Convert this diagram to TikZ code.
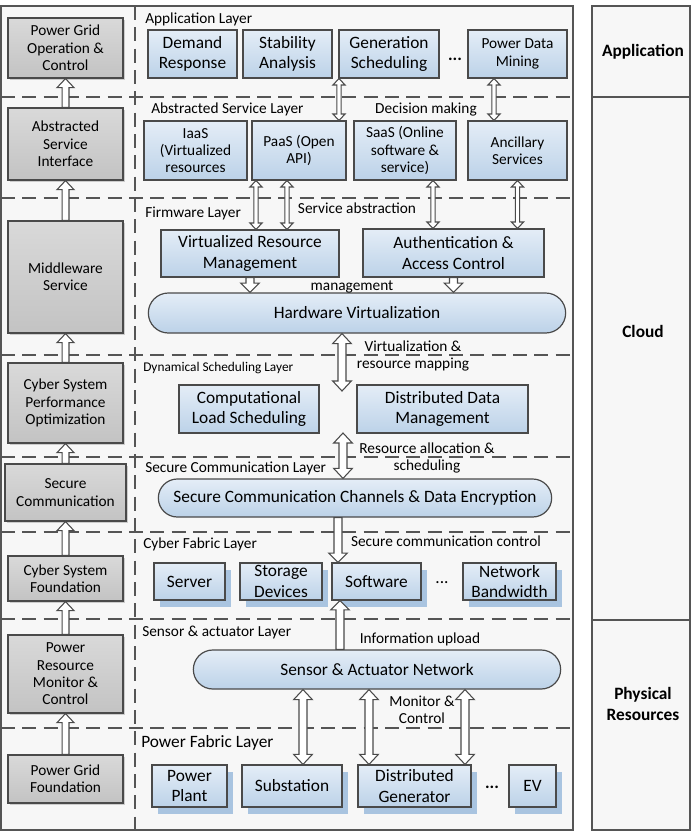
\documentclass[tikz,border=0pt]{standalone}
\usepackage{fontspec}
\setmainfont{Carlito}
\usetikzlibrary{shapes.misc,shadows,calc}
\definecolor{edge}{HTML}{4A4A4A}
\definecolor{frame}{HTML}{555555}
\definecolor{bluetop}{HTML}{E4EDF7}
\definecolor{bluebot}{HTML}{BCD2E8}
\definecolor{blueshadow}{HTML}{A9C4E0}
\definecolor{graytop}{HTML}{D9D9D9}
\definecolor{graybot}{HTML}{C3C3C3}
\definecolor{bgc}{HTML}{F7F7F7}
\newcommand\bigf{\fontsize{13}{15.5}\selectfont}
\newcommand\smallf{\fontsize{11.5}{13}\selectfont}
\newcommand\tinyf{\fontsize{10}{12}\selectfont}
\newcommand\bx[7]{\node[#6, minimum width={(#4-#2)*0.75pt}, minimum height={(#5-#3)*0.75pt}] (#1) at ({(#2+#4)/2},{(#3+#5)/2}) {#7};}
\def\aSW{3pt}\def\aHW{6pt}\def\aHL{6pt}
\tikzset{
  arrdims/.code args={#1/#2/#3}{\def\aSW{#1}\def\aHW{#2}\def\aHL{#3}},
  sarrow/.style={draw=edge, fill=white, line width=0.8pt, line join=miter,
    to path={let \p1=(\tikztostart), \p2=(\tikztotarget), \n1={ifthenelse(\y2>\y1,1,-1)*\aHL} in
      ({\x1-\aSW},{\y1}) -- ({\x1-\aSW},{\y2-(\n1)}) -- ({\x1-\aHW},{\y2-(\n1)}) -- ({\x1},{\y2}) -- ({\x1+\aHW},{\y2-(\n1)}) -- ({\x1+\aSW},{\y2-(\n1)}) -- ({\x1+\aSW},{\y1}) -- cycle}},
  darrow/.style={draw=edge, fill=white, line width=0.8pt, line join=miter,
    to path={let \p1=(\tikztostart), \p2=(\tikztotarget), \n1={ifthenelse(\y2>\y1,1,-1)*\aHL} in
      ({\x1},{\y1}) -- ({\x1+\aHW},{\y1+(\n1)}) -- ({\x1+\aSW},{\y1+(\n1)}) -- ({\x1+\aSW},{\y2-(\n1)}) -- ({\x1+\aHW},{\y2-(\n1)}) -- ({\x1},{\y2}) -- ({\x1-\aHW},{\y2-(\n1)}) -- ({\x1-\aSW},{\y2-(\n1)}) -- ({\x1-\aSW},{\y1+(\n1)}) -- ({\x1-\aHW},{\y1+(\n1)}) -- cycle}},
  leftarr/.style={sarrow, arrdims=2.6pt/6.4pt/6.8pt},
  thinarr/.style={darrow, arrdims=1.6pt/4.6pt/4.8pt},
  medsarr/.style={sarrow, arrdims=3pt/7pt/7pt},
  meddarr/.style={darrow, arrdims=3pt/7pt/7.5pt},
  gbox/.style={draw=edge, line width=0.9pt, top color=graytop, bottom color=graybot,
    drop shadow={shadow xshift=1.6pt, shadow yshift=-1.6pt, fill=gray!40, opacity=1},
    align=center, inner sep=1pt, font=\smallf},
  bbox/.style={draw=edge, line width=0.9pt, top color=bluetop, bottom color=bluebot,
    align=center, inner sep=1pt, font=\bigf},
  sbbox/.style={bbox, drop shadow={shadow xshift=4.5pt, shadow yshift=-5pt, fill=blueshadow, opacity=1}},
  pill/.style={bbox, rounded rectangle},
  lbl/.style={anchor=west, font=\smallf, inner sep=0pt},
  note/.style={font=\smallf, inner sep=0pt, align=center},
  dashline/.style={draw=frame, line width=1pt, dash pattern=on 10.5pt off 5.5pt},
  side/.style={font=\bigf\bfseries, align=center}
}
\begin{document}
\begin{tikzpicture}[x=0.75pt,y=-0.75pt]
\useasboundingbox (0,0) rectangle (691,833);
% frames
\draw[draw=frame, fill=bgc, line width=1.1pt] (1,6) rectangle (573,830);
\draw[draw=frame, fill=bgc, line width=1.1pt] (592,6) rectangle (690,830);
\draw[frame, line width=1.1pt] (592,97) -- (690,97);
\draw[frame, line width=1.1pt] (592,620) -- (690,620);
\foreach \yy in {97,198,355,457,532,619,728} \draw[dashline] (1,\yy) -- (573,\yy);
\draw[dashline] (135,6) -- (135,830);
% right column
\node[side] (tapp) at (643,52) {Application};
\node[side] (tcloud) at (643,331) {Cloud};
\node[side] (tphys) at (643,704) {Physical\\Resources};
% left column
\bx{pgo}{8}{18}{123}{78}{gbox}{Power Grid\\Operation \&\\Control}
\bx{asi}{8}{108}{123}{180}{gbox}{Abstracted\\Service\\Interface}
\bx{mw}{8}{221}{123}{333}{gbox}{Middleware\\Service}
\bx{cspo}{8}{363}{123}{443}{gbox}{Cyber System\\Performance\\Optimization}
\bx{sc}{5}{464}{126}{521}{gbox}{Secure\\Communication}
\bx{csf}{8}{556}{123}{601}{gbox}{Cyber System\\Foundation}
\bx{prmc}{8}{635}{123}{713}{gbox}{Power\\Resource\\Monitor \&\\Control}
\bx{pgf}{8}{755}{123}{803}{gbox}{Power Grid\\Foundation}
\draw[leftarr] (asi.north) to (pgo.south);
\draw[leftarr] (mw.north) to (asi.south);
\draw[leftarr] (cspo.north) to (mw.south);
\draw[leftarr] (sc.north) to (cspo.south);
\draw[leftarr] (csf.north) to (sc.south);
\draw[leftarr] (prmc.north) to (csf.south);
\draw[leftarr] (pgf.north) to (prmc.south);
% application layer
\node[lbl] (lapp) at (145,19) {Application Layer};
\bx{dr}{148}{30}{237}{78}{bbox}{Demand\\Response}
\bx{sa}{243}{30}{332}{78}{bbox}{Stability\\Analysis}
\bx{gs}{339}{30}{439}{78}{bbox}{Generation\\Scheduling}
\node[font=\bigf\bfseries] (dots1) at (455,59) {...};
\bx{pdm}{468}{30}{567}{78}{bbox,font=\smallf}{Power Data\\Mining}
% abstracted service layer
\node[lbl] (labs) at (151,109) {Abstracted Service Layer};
\node[note] (ldec) at (426,109) {Decision making};
\bx{iaas}{144}{121}{247}{180}{bbox,font=\smallf}{IaaS\\(Virtualized\\resources}
\bx{paas}{252}{121}{346}{180}{bbox,font=\smallf}{PaaS (Open\\API)}
\bx{saas}{354}{121}{456}{180}{bbox,font=\smallf}{SaaS (Online\\software \&\\service)}
\bx{anc}{468}{121}{567}{180}{bbox,font=\smallf}{Ancillary\\Services}
\draw[thinarr] ($(gs.south)+(-50,0)$) to (paas.north);
\draw[thinarr] ($(pdm.south)+(-23.5,0)$) to (anc.north);
% firmware layer
\node[lbl] (lfirm) at (145,213) {Firmware Layer};
\node[note] (lsab) at (357,208) {Service abstraction};
\bx{vrm}{161}{230}{339}{277}{bbox}{Virtualized Resource\\Management}
\bx{auth}{363}{229}{544}{277}{bbox}{Authentication \&\\Access Control}
\bx{hv}{147}{293}{567}{333}{pill}{Hardware Virtualization}
\draw[thinarr] ($(paas.south)+(-43,0)$) to (vrm.north);
\draw[thinarr] ($(paas.south)+(-12,0)$) to (vrm.north);
\draw[thinarr] ($(saas.south)+(28,0)$) to (auth.north);
\draw[thinarr] (anc.south) to (auth.north);
\draw[medsarr] (vrm.south) to (hv.north);
\draw[medsarr] (auth.south) to (hv.north);
\node[note] (lmgmt) at (352,287) {management};
% dynamical scheduling layer
\node[lbl, font=\tinyf] (ldyn) at (143,368) {Dynamical Scheduling Layer};
\bx{cls}{179}{385}{319}{433}{bbox}{Computational\\Load Scheduling}
\bx{ddm}{357}{385}{528}{433}{bbox}{Distributed Data\\Management}
\coordinate (vmend) at (342,391);
\draw[meddarr] ($(hv.south)+(-15,0)$) to (vmend);
\node[note, align=center] (lvm) at (413,356) {Virtualization \&\\resource mapping};
% secure communication layer
\node[lbl] (lsec) at (145,468) {Secure Communication Layer};
\bx{scc}{157}{479}{553}{517}{pill}{Secure Communication Channels \& Data Encryption}
\coordinate (raend) at (343,433);
\draw[meddarr] (raend) to (scc.north);
\node[note] (lra) at (427,458) {Resource allocation \&\\scheduling};
% cyber fabric layer
\node[lbl] (lcyb) at (143,544) {Cyber Fabric Layer};
\node[note] (lscc) at (446,541) {Secure communication control};
\bx{srv}{154}{563}{225}{600}{sbbox}{Server}
\bx{stor}{240}{563}{322}{600}{sbbox}{Storage\\Devices}
\bx{soft}{332}{563}{421}{600}{sbbox}{Software}
\node[font=\bigf] (dots2) at (442,583) {...};
\bx{nb}{463}{563}{556}{600}{sbbox}{Network\\Bandwidth}
\draw[medsarr] ($(scc.south)+(-17,0)$) to (soft.north);
% sensor & actuator layer
\node[lbl] (lsen) at (142,632) {Sensor \& actuator Layer};
\node[note] (lup) at (420,639) {Information upload};
\bx{san}{192}{650}{562}{689}{pill}{Sensor \& Actuator Network}
\draw[medsarr] ($(san.north)+(-37,0)$) to (soft.south);
% power fabric layer
\node[lbl, font=\bigf] (lpow) at (141,743) {Power Fabric Layer};
\bx{pp}{152}{765}{227}{807}{sbbox}{Power\\Plant}
\bx{sub}{242}{765}{342}{807}{sbbox}{Substation}
\bx{dg}{358}{765}{471}{807}{sbbox}{Distributed\\Generator}
\node[font=\bigf\bfseries] (dots3) at (492,787) {...};
\bx{ev}{509}{765}{556}{807}{sbbox}{EV}
\draw[meddarr] ($(san.south)+(-74,0)$) to (sub.north);
\draw[meddarr] ($(san.south)+(-8,0)$) to (dg.north);
\draw[meddarr] ($(san.south)+(88,0)$) to (dg.north);
\node[note] (lmon) at (422,710) {Monitor \&\\Control};
\end{tikzpicture}
\end{document}
